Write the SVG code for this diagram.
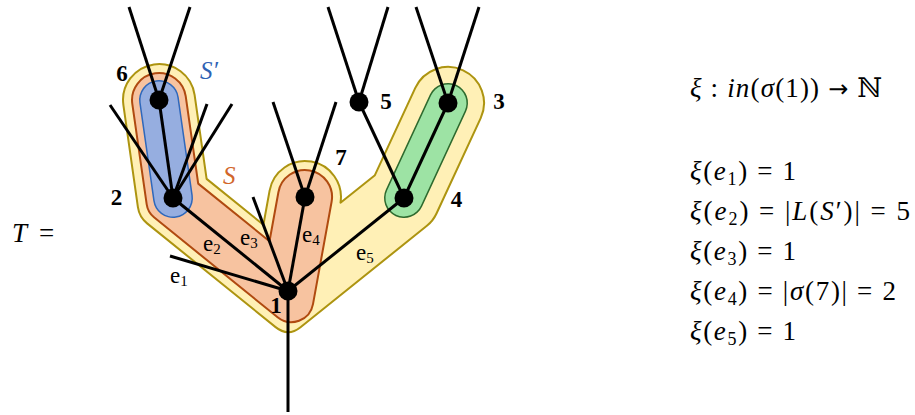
<svg xmlns="http://www.w3.org/2000/svg" width="915" height="415" viewBox="0 0 915 415">
<style>
.edge{stroke:#000;stroke-width:3;fill:none;stroke-linecap:butt}
.nd{fill:#000}
.lbl{font-family:"Liberation Serif",serif;font-weight:bold;font-size:23px;text-anchor:middle;fill:#000}
.el{font-family:"Liberation Serif",serif;font-size:23px;fill:#000}
.math{font-family:"Liberation Serif","DejaVu Serif",serif;font-size:27px;fill:#000}
.it{font-style:italic}
.yel{fill:#fff0b6;stroke:#ad9410;stroke-width:2;stroke-linejoin:round}
.org{fill:#f7c3a0;stroke:#b04a10;stroke-width:2;stroke-linejoin:round}
</style>
<g id="regions">
<path class="yel" d="M123.4,105.1 L137.9,207.2 Q139.3,217.1 147.1,223.4 L275.6,327.1 Q288,337.2 300.5,327.2 L426.9,225.8 Q433.1,220.8 436.5,213.5 L480.7,118.1 A36,36 0 0 0 463.1,70.3 A36,36 0 0 0 415.3,87.9 L374.9,175.2 L340.5,202.7 A36,36 0 0 0 311.4,161.6 A36,36 0 0 0 269.6,190.6 L263.4,224.8 L206.6,178.9 L194.6,94.9 A36,36 0 0 0 153.9,64.4 A36,36 0 0 0 123.4,105.1 Z"/>
<path class="org" d="M132.3,103.8 L146.7,204.4 Q147.8,212.3 154,217.3 L277.6,317.3 A22,22 0 0 0 313,304.1 L331.6,201.8 A27,27 0 0 0 309.8,170.4 A27,27 0 0 0 278.4,192.2 L269.5,241.2 L198.2,183.6 L185.7,96.2 A27,27 0 0 0 155.2,73.3 A27,27 0 0 0 132.3,103.8 Z"/>
<path d="M159,100 L173,198" stroke="#2f68bb" stroke-width="40" stroke-linecap="round" fill="none"/>
<path d="M159,100 L173,198" stroke="#96aee0" stroke-width="37" stroke-linecap="round" fill="none"/>
<path d="M448,103 L404,198" stroke="#2e6a2e" stroke-width="40" stroke-linecap="round" fill="none"/>
<path d="M448,103 L404,198" stroke="#9de3a4" stroke-width="37" stroke-linecap="round" fill="none"/>
<text x="200" y="79" font-family="Liberation Serif,serif" font-style="italic" font-size="25" fill="#2f62b4">S′</text>
<text x="223" y="184" font-family="Liberation Serif,serif" font-style="italic" font-size="25" fill="#d2662a">S</text>
</g>
<g id="connectors">
<line class="edge" x1="288" y1="291" x2="288" y2="412"/>
<line class="edge" x1="288" y1="291" x2="173" y2="198"/>
<line class="edge" x1="288" y1="291" x2="305" y2="197"/>
<line class="edge" x1="288" y1="291" x2="404" y2="198"/>
<line class="edge" x1="288" y1="291" x2="170" y2="256"/>
<line class="edge" x1="288" y1="291" x2="253" y2="197"/>
<line class="edge" x1="173" y1="198" x2="159" y2="100"/>
<line class="edge" x1="173" y1="198" x2="110" y2="105"/>
<line class="edge" x1="173" y1="198" x2="207" y2="104"/>
<line class="edge" x1="173" y1="198" x2="232" y2="104"/>
<line class="edge" x1="159" y1="100" x2="129" y2="7"/>
<line class="edge" x1="159" y1="100" x2="190" y2="7"/>
<line class="edge" x1="305" y1="197" x2="273" y2="102"/>
<line class="edge" x1="305" y1="197" x2="336" y2="102"/>
<line class="edge" x1="359" y1="102" x2="328" y2="7"/>
<line class="edge" x1="359" y1="102" x2="388" y2="7"/>
<line class="edge" x1="359" y1="102" x2="404" y2="198"/>
<line class="edge" x1="448" y1="103" x2="416" y2="7"/>
<line class="edge" x1="448" y1="103" x2="479" y2="7"/>
<line class="edge" x1="448" y1="103" x2="404" y2="198"/>
<text class="el" x="170" y="283">e<tspan font-size="15" dy="3">1</tspan></text>
<text class="el" x="203" y="251">e<tspan font-size="15" dy="3">2</tspan></text>
<text class="el" x="240" y="245">e<tspan font-size="15" dy="3">3</tspan></text>
<text class="el" x="302" y="242">e<tspan font-size="15" dy="3">4</tspan></text>
<text class="el" x="356" y="260">e<tspan font-size="15" dy="3">5</tspan></text>
</g>
<g id="node-1"><circle class="nd" cx="288" cy="291" r="9.5"/><text class="lbl" x="276" y="313" font-weight="normal" font-size="24">1</text></g>
<g id="node-2"><circle class="nd" cx="173" cy="198" r="9.5"/><text class="lbl" x="116.5" y="205">2</text></g>
<g id="node-3"><circle class="nd" cx="448" cy="103" r="9.5"/><text class="lbl" x="499" y="109">3</text></g>
<g id="node-4"><circle class="nd" cx="404" cy="198" r="9.5"/><text class="lbl" x="456.5" y="207">4</text></g>
<g id="node-5"><circle class="nd" cx="359" cy="102" r="9.5"/><text class="lbl" x="386" y="109">5</text></g>
<g id="node-6"><circle class="nd" cx="159" cy="100" r="9.5"/><text class="lbl" x="122" y="81">6</text></g>
<g id="node-7"><circle class="nd" cx="305" cy="197" r="9.5"/><text class="lbl" x="341" y="165">7</text></g>
<g id="labels">
<text class="math" x="12" y="242"><tspan class="it">T</tspan><tspan x="39">=</tspan></text>
<text class="math" x="690" y="97" textLength="192" lengthAdjust="spacing"><tspan class="it">ξ</tspan> : <tspan class="it">in</tspan>(<tspan class="it">σ</tspan>(1)) <tspan font-family="DejaVu Sans,sans-serif" font-size="24">→</tspan> ℕ</text>
<text class="math" x="690" y="179.5" textLength="106" lengthAdjust="spacing"><tspan class="it">ξ</tspan>(<tspan class="it">e</tspan><tspan font-size="18" dy="5">1</tspan><tspan dy="-5">) = 1</tspan></text>
<text class="math" x="690" y="220" textLength="220" lengthAdjust="spacing"><tspan class="it">ξ</tspan>(<tspan class="it">e</tspan><tspan font-size="18" dy="5">2</tspan><tspan dy="-5">) = |</tspan><tspan class="it">L</tspan>(<tspan class="it">S</tspan>′)| = 5</text>
<text class="math" x="690" y="260" textLength="106" lengthAdjust="spacing"><tspan class="it">ξ</tspan>(<tspan class="it">e</tspan><tspan font-size="18" dy="5">3</tspan><tspan dy="-5">) = 1</tspan></text>
<text class="math" x="690" y="300" textLength="206" lengthAdjust="spacing"><tspan class="it">ξ</tspan>(<tspan class="it">e</tspan><tspan font-size="18" dy="5">4</tspan><tspan dy="-5">) = |</tspan><tspan class="it">σ</tspan>(7)| = 2</text>
<text class="math" x="690" y="340" textLength="106" lengthAdjust="spacing"><tspan class="it">ξ</tspan>(<tspan class="it">e</tspan><tspan font-size="18" dy="5">5</tspan><tspan dy="-5">) = 1</tspan></text>
</g>
</svg>
